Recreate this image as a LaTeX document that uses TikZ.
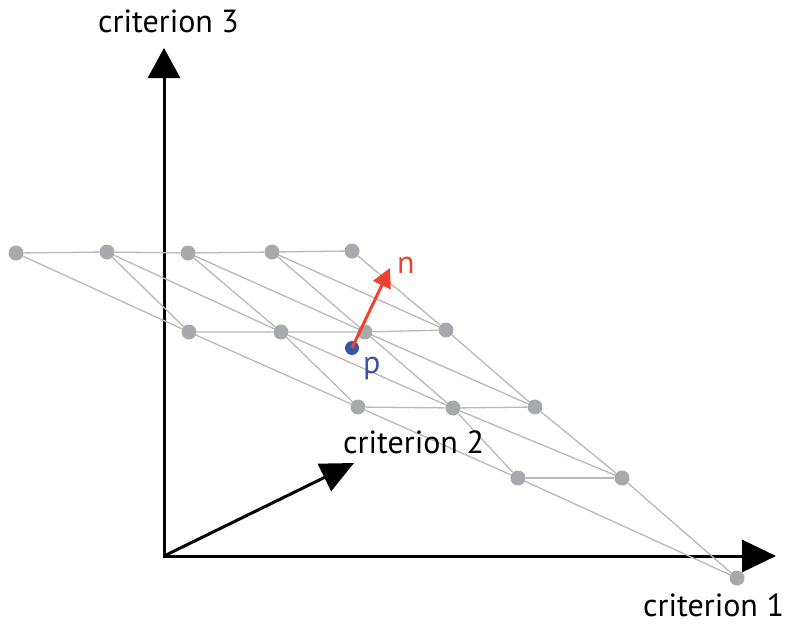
\documentclass[tikz,border=0pt]{standalone}
\usepackage{fontspec}
\setmainfont{PT Sans}
\usetikzlibrary{arrows.meta}
\definecolor{dotgrey}{HTML}{A7A9AC}
\definecolor{linegrey}{HTML}{B8B8B8}
\definecolor{nred}{HTML}{EF4130}
\definecolor{pblue}{HTML}{3A53A4}
\begin{document}
\begin{tikzpicture}[x=1pt,y=-1pt,
  dot/.style={circle,fill=dotgrey,inner sep=0pt,minimum size=15pt},
  mesh/.style={draw=linegrey,line width=1.3pt},
  axis/.style={line width=3pt},
  lab/.style={anchor=base west,inner sep=0pt,font=\fontsize{32}{38}\selectfont}]
\useasboundingbox (0,0) rectangle (786,629);
% axes
\coordinate (O) at (164,556);
\coordinate (Z) at (164,48);
\coordinate (X) at (776,556);
\coordinate (Y) at (354,463);
\draw[axis,{Triangle[length=30pt,width=32pt]}-{Triangle[length=34pt,width=32pt]}] (Z) -- (O) -- (X);
\draw[axis,-{Triangle[length=33pt,width=30pt]}] (O) -- (Y);
% mesh points
\node[dot] (A1) at (16,253) {};
\node[dot] (A2) at (107,252) {};
\node[dot] (A3) at (188,253) {};
\node[dot] (A4) at (272,252) {};
\node[dot] (A5) at (352,251) {};
\node[dot] (B1) at (189,332) {};
\node[dot] (B2) at (281,332) {};
\node[dot] (B3) at (365,332) {};
\node[dot] (B4) at (446,330) {};
\node[dot] (C1) at (358,407) {};
\node[dot] (C2) at (453,408) {};
\node[dot] (C3) at (535,407) {};
\node[dot] (D1) at (518,478) {};
\node[dot] (D2) at (622,478) {};
\node[dot] (E1) at (737,578) {};
% mesh edges
\draw[mesh] (A1) -- (A2) -- (A3) -- (A4) -- (A5);
\draw[mesh] (B1) -- (B2) -- (B3) -- (B4);
\draw[mesh] (C1) -- (C2) -- (C3);
\draw[mesh] (D1) -- (D2);
\draw[mesh] (A1) -- (B1) (A2) -- (B1) (A2) -- (B2) (A3) -- (B2) (A3) -- (B3)
  (A4) -- (B3) (A4) -- (B4) (A5) -- (B4);
\draw[mesh] (B1) -- (C1) (B2) -- (C1) (B2) -- (C2) (B3) -- (C2) (B3) -- (C3) (B4) -- (C3);
\draw[mesh] (C1) -- (D1) (C2) -- (D1) (C2) -- (D2) (C3) -- (D2);
\draw[mesh] (D1) -- (E1) (D2) -- (E1);
% point p and normal n
\node[circle,fill=pblue,inner sep=0pt,minimum size=14pt] (p) at (352,348) {};
\coordinate (ntip) at (390,268);
\draw[nred,line width=3pt,-{Triangle[length=19pt,width=19pt]}] (p.center) -- (ntip);
% labels
\node[lab] (l3) at (98,32) {criterion 3};
\node[lab] (l2) at (343,453) {criterion 2};
\node[lab] (l1) at (643,616) {criterion 1};
\node[lab,text=nred] (ln) at (397,273) {n};
\node[lab,text=pblue] (lp) at (363,373) {p};
\end{tikzpicture}
\end{document}
